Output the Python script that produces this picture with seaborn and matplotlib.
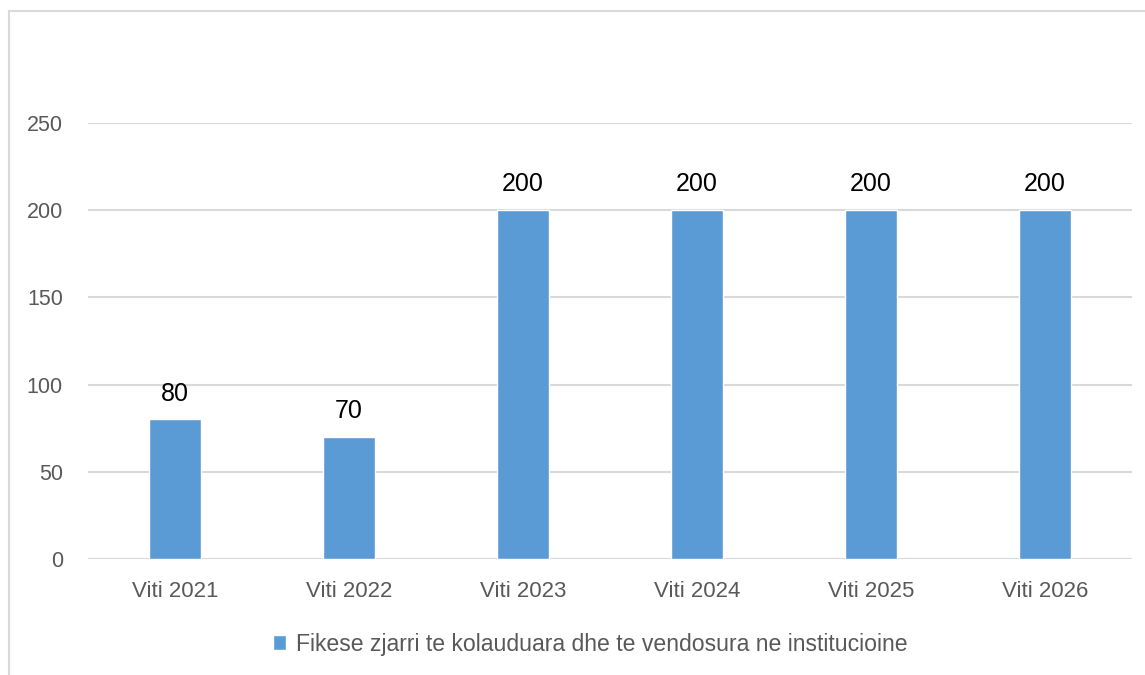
import pandas as pd
import matplotlib.pyplot as plt
import seaborn as sns
from matplotlib.patches import Rectangle

years = ["Viti 2021", "Viti 2022", "Viti 2023", "Viti 2024", "Viti 2025", "Viti 2026"]
values = [80, 70, 200, 200, 200, 200]
series_name = "Fikese zjarri te kolauduara dhe te vendosura ne institucioine"
y_ticks = [0, 50, 100, 150, 200, 250]

BAR = "#5B9BD5"
GRID = "#D9D9D9"
TXT = "#595959"

sns.set_theme(style="white")
plt.rcParams["font.family"] = ["Liberation Sans", "DejaVu Sans"]

df = pd.DataFrame({"year": years, "value": values})

fig = plt.figure(figsize=(11.45, 6.75), dpi=100)
ax = fig.add_axes([88 / 1145, 1 - 559 / 675, (1132 - 88) / 1145, (559 - 123) / 675])

sns.barplot(data=df, x="year", y="value", color=BAR, width=0.3,
            saturation=1, label=series_name, ax=ax)

ax.set_ylim(0, 250)
ax.set_yticks(y_ticks)
ax.grid(axis="y", color=GRID, linewidth=1.5)
ax.set_axisbelow(True)
for s in ax.spines.values():
    s.set_visible(False)
ax.axhline(0, color=GRID, linewidth=1.5, zorder=0.5)
ax.set_xlabel("")
ax.set_ylabel("")
ax.tick_params(axis="y", length=0, pad=18, labelsize=15.5, labelcolor=TXT)
ax.tick_params(axis="x", length=0, pad=16, labelsize=16, labelcolor=TXT)

for i, v in enumerate(values):
    ax.annotate(str(v), (i, v), xytext=(0, 10), textcoords="offset points",
                ha="center", va="bottom", fontsize=18, color="black")

ax.legend(loc="center", bbox_to_anchor=(590 / 1145, 1 - 644 / 675),
          bbox_transform=fig.transFigure, frameon=False, fontsize=16.6,
          labelcolor=TXT, handlelength=0.6, handleheight=0.6, handletextpad=0.4)

# chart border (extends past right/bottom edges like the source crop)
fig.patches.append(Rectangle((9 / 1145, -0.1), 1.2, 1 - 11 / 675 + 0.1,
                             transform=fig.transFigure, fill=False,
                             edgecolor=GRID, linewidth=1.5))

fig.savefig("out.png", dpi=100)
